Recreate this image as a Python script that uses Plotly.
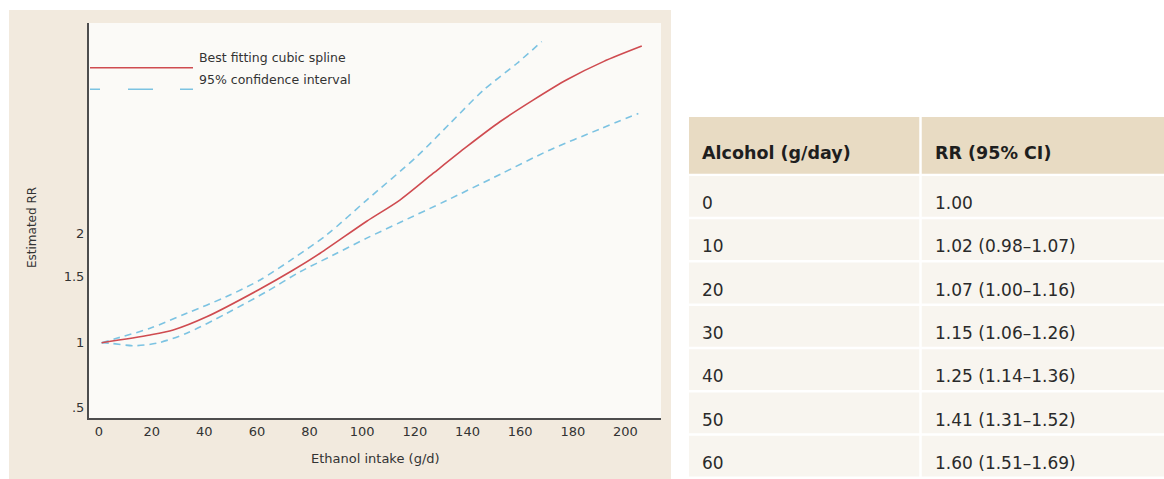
import plotly.graph_objects as go

W, H = 1164, 479

# Best fitting cubic spline and its 95% confidence band (g/d, RR)
SPLINE_X = [1.0, 19.4, 28.2, 40.9, 60.5, 73.8, 84.0, 101.7, 114.3, 127.0, 139.7, 152.3, 164.9, 177.7, 191.6, 206.2]
SPLINE_RR = [1.0, 1.086, 1.146, 1.32, 1.76, 2.18, 2.61, 3.68, 4.62, 6.16, 8.19, 10.7, 13.5, 16.8, 20.4, 24.1]
UPPER_X = [1.0, 6.7, 19.4, 33.3, 48.5, 61.2, 73.8, 86.5, 101.7, 120.7, 133.3, 146.0, 158.7, 168.2]
UPPER_RR = [1.0, 1.048, 1.167, 1.37, 1.64, 1.96, 2.47, 3.18, 4.62, 7.36, 10.5, 15.0, 20.0, 25.3]
LOWER_X = [1.0, 4.2, 13.0, 21.9, 33.3, 48.5, 63.7, 76.4, 89.0, 101.7, 114.3, 132.1, 152.3, 171.3, 190.3, 204.9]
LOWER_RR = [1.0, 0.994, 0.968, 0.994, 1.106, 1.37, 1.73, 2.14, 2.56, 3.07, 3.63, 4.60, 6.08, 7.91, 9.90, 11.7]

# Axis ticks
X_TICKS = [0, 20, 40, 60, 80, 100, 120, 140, 160, 180, 200]
Y_TICK_VALS = [0.5, 1, 2.03, 3.23]
Y_TICK_TEXT = [".5", "1", "1.5", "2"]

# Table of relative risks by daily alcohol intake
ALCOHOL = [0, 10, 20, 30, 40, 50, 60]
RR = [1.00, 1.02, 1.07, 1.15, 1.25, 1.41, 1.60]
CI_LOW = [None, 0.98, 1.00, 1.06, 1.14, 1.31, 1.51]
CI_HIGH = [None, 1.07, 1.16, 1.26, 1.36, 1.52, 1.69]
HEADERS = ["Alcohol (g/day)", "RR (95% CI)"]

RED = "#cf4b50"
BLUE = "#7cc3e2"
PANEL = "#f2eade"
PLOT_BG = "#fbfaf7"
HEAD_BG = "#e8dbc3"
ROW_BG = "#f8f5ef"
FONT = "DejaVu Sans"


def fx(px):
    return px / W


def fy(py):
    return 1 - py / H


fig = go.Figure()

fig.add_trace(go.Scatter(x=UPPER_X, y=UPPER_RR, mode="lines",
                         line=dict(color=BLUE, width=1.6, dash="7px,5px", shape="spline", smoothing=0.8),
                         hoverinfo="skip"))
fig.add_trace(go.Scatter(x=LOWER_X, y=LOWER_RR, mode="lines",
                         line=dict(color=BLUE, width=1.6, dash="7px,5px", shape="spline", smoothing=0.8),
                         hoverinfo="skip"))
fig.add_trace(go.Scatter(x=SPLINE_X, y=SPLINE_RR, mode="lines",
                         line=dict(color=RED, width=1.6, shape="spline", smoothing=0.8),
                         hoverinfo="skip"))

shapes = []
annotations = []

# beige panel behind the chart, then the lighter plotting area on top of it
shapes.append(dict(type="rect", xref="paper", yref="paper", layer="below",
                   x0=fx(9), x1=fx(671), y0=0, y1=fy(10),
                   fillcolor=PANEL, line=dict(width=0)))
shapes.append(dict(type="rect", xref="x domain", yref="y domain", layer="below",
                   x0=0, x1=1, y0=0, y1=1,
                   fillcolor=PLOT_BG, line=dict(width=0)))

# legend keys
shapes.append(dict(type="line", xref="paper", yref="paper",
                   x0=fx(90), x1=fx(193), y0=fy(67.7), y1=fy(67.7),
                   line=dict(color=RED, width=1.6)))
shapes.append(dict(type="line", xref="paper", yref="paper",
                   x0=fx(90), x1=fx(193), y0=fy(89.3), y1=fy(89.3),
                   line=dict(color=BLUE, width=1.6, dash="10px,28px,25px,27px,13px,60px")))
annotations.append(dict(text="Best fitting cubic spline", xref="paper", yref="paper",
                        x=fx(197), y=fy(57), xanchor="left", yanchor="middle",
                        showarrow=False, font=dict(family=FONT, size=12.5, color="#333")))
annotations.append(dict(text="95% confidence interval", xref="paper", yref="paper",
                        x=fx(197), y=fy(79.5), xanchor="left", yanchor="middle",
                        showarrow=False, font=dict(family=FONT, size=12.5, color="#333")))

# axis titles
annotations.append(dict(text="Ethanol intake (g/d)", xref="paper", yref="paper",
                        x=fx(375), y=fy(458), xanchor="center", yanchor="middle",
                        showarrow=False, font=dict(family=FONT, size=13, color="#333")))
annotations.append(dict(text="Estimated RR", xref="paper", yref="paper",
                        x=fx(32), y=fy(228), xanchor="center", yanchor="middle", textangle=-90,
                        showarrow=False, font=dict(family=FONT, size=12, color="#333")))

# table
TBL_X0, COL_SPLIT, TBL_X1 = 689, 920.5, 1164
HEAD_TOP, HEAD_BOT = 117, 175
ROW_H = 43.3
GAP = 2.5

shapes.append(dict(type="rect", xref="paper", yref="paper",
                   x0=fx(TBL_X0), x1=fx(COL_SPLIT - GAP / 2), y0=fy(HEAD_TOP), y1=fy(HEAD_BOT - GAP / 2),
                   fillcolor=HEAD_BG, line=dict(width=0)))
shapes.append(dict(type="rect", xref="paper", yref="paper",
                   x0=fx(COL_SPLIT + GAP / 2), x1=fx(TBL_X1), y0=fy(HEAD_TOP), y1=fy(HEAD_BOT - GAP / 2),
                   fillcolor=HEAD_BG, line=dict(width=0)))
for col, (text, x) in enumerate(zip(HEADERS, [700, 933])):
    annotations.append(dict(text="<b>%s</b>" % text, xref="paper", yref="paper",
                            x=fx(x), y=fy(HEAD_TOP + 36), xanchor="left", yanchor="middle",
                            showarrow=False, font=dict(family=FONT, size=17.5, color="#1e1e1e")))

for i, (a, rr, lo, hi) in enumerate(zip(ALCOHOL, RR, CI_LOW, CI_HIGH)):
    top = HEAD_BOT + 1 + i * ROW_H
    bot = top + ROW_H - GAP
    for x0, x1 in [(TBL_X0, COL_SPLIT - GAP / 2), (COL_SPLIT + GAP / 2, TBL_X1)]:
        shapes.append(dict(type="rect", xref="paper", yref="paper",
                           x0=fx(x0), x1=fx(x1), y0=fy(top), y1=fy(bot),
                           fillcolor=ROW_BG, line=dict(width=0)))
    rr_text = "%.2f" % rr if lo is None else "%.2f (%.2f\u2013%.2f)" % (rr, lo, hi)
    for text, x in [(str(a), 700), (rr_text, 933)]:
        annotations.append(dict(text=text, xref="paper", yref="paper",
                                x=fx(x), y=fy(top + 27), xanchor="left", yanchor="middle",
                                showarrow=False, font=dict(family=FONT, size=17, color="#2a2a2a")))

fig.update_layout(
    width=W, height=H, autosize=False,
    margin=dict(l=0, r=0, t=0, b=0, pad=0),
    paper_bgcolor="white", plot_bgcolor=PLOT_BG,
    showlegend=False,
    font=dict(family=FONT, size=13, color="#333"),
    shapes=shapes, annotations=annotations,
    xaxis=dict(domain=[fx(89), fx(661)], range=[-3.8, 213.5],
               tickvals=X_TICKS, ticks="", showgrid=False, zeroline=False,
               showline=True, linecolor="#4d4d4d", linewidth=2,
               tickfont=dict(family=FONT, size=13, color="#333")),
    yaxis=dict(domain=[fy(418), fy(23)], type="log", range=[-0.351, 1.4897],
               tickvals=Y_TICK_VALS, ticktext=Y_TICK_TEXT, ticks="",
               showgrid=False, zeroline=False,
               showline=True, linecolor="#4d4d4d", linewidth=2,
               tickfont=dict(family=FONT, size=13, color="#333")),
)

fig.write_html("out.html")
